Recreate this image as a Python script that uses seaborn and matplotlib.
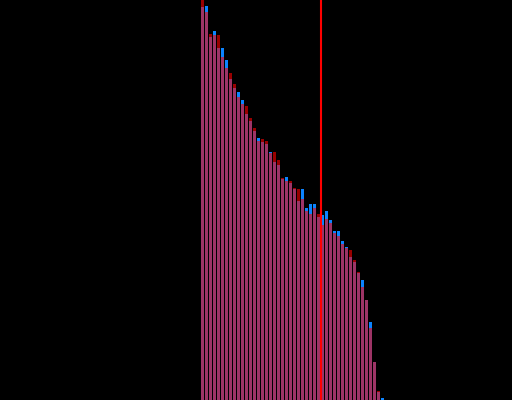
import matplotlib
matplotlib.use("Agg")
import matplotlib.pyplot as plt
import seaborn as sns

sns.set_theme(style="dark")

# values (46 bars each)
red_vals = [400, 388, 366, 365, 365, 343, 332, 327, 316, 303,
            296, 294, 282, 272, 259, 261, 259, 247, 248, 240,
            222, 219, 219, 212, 211, 201, 189, 186, 192, 186,
            175, 181, 177, 167, 164, 156, 152, 150, 140, 128,
            113, 100, 72, 38, 9, 0]
blue_vals = [393, 394, 363, 369, 352, 352, 340, 321, 312, 308,
             300, 286, 279, 269, 262, 258, 256, 248, 238, 235,
             221, 223, 217, 211, 199, 211, 192, 196, 196, 183,
             185, 189, 180, 169, 169, 159, 153, 143, 138, 127,
             120, 100, 78, 38, 8, 2]
bins = list(range(len(red_vals)))
marker_pos = 29.5

fig = plt.figure(figsize=(5.12, 4.0), dpi=100, facecolor="black")
ax = fig.add_axes([0, 0, 1, 1])
ax.set_facecolor("black")

sns.barplot(x=bins, y=blue_vals, color="#0b84ff", saturation=1,
            width=0.75, errorbar=None, linewidth=0, ax=ax)
sns.barplot(x=bins, y=red_vals, color="red", alpha=0.6, saturation=1,
            width=0.75, errorbar=None, linewidth=0, ax=ax)
ax.axvline(marker_pos, color="red", lw=1.5)

ax.set_xlim(-50.625, 77.375)
ax.set_ylim(0, 400)
ax.axis("off")

fig.savefig("out.png", dpi=100, facecolor="black")
